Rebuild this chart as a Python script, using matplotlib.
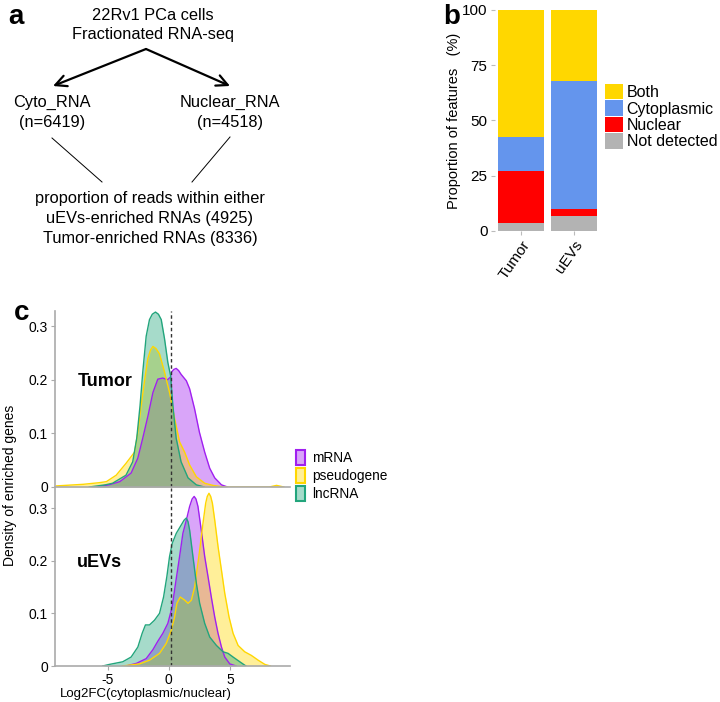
"""
plot.py - fractionated RNA-seq summary figure (panels a, b, c)
"""
import matplotlib
matplotlib.use('Agg')
import matplotlib.pyplot as plt
from matplotlib.patches import Patch
import numpy as np

plt.rcParams['font.family'] = ['Liberation Sans', 'DejaVu Sans']
plt.rcParams['axes.unicode_minus'] = False

# ---- panel b data (percent of features) ----
groups = ['Tumor', 'uEVs']
categories = ['Not detected', 'Nuclear', 'Cytoplasmic', 'Both']
pct_not_detected = [3.8, 6.9]
pct_nuclear = [23.3, 3.1]
pct_cytoplasmic = [15.6, 57.9]
pct_both = [57.3, 32.1]
cat_colors = {'Both': '#FFD700', 'Cytoplasmic': '#6495ED',
              'Nuclear': '#FF0000', 'Not detected': '#B3B3B3'}

# ---- panel c data (density curves) ----
# Tumor
tum_mrna_x = [-6.0, -4.9, -4.0, -3.08, -2.53, -2.13, -1.7, -1.3, -0.9, -0.5, -0.1, 0.14, 0.22, 0.4, 0.6, 0.8, 1.0, 1.43, 1.7, 2.1, 2.5, 2.93, 3.34, 3.75, 4.3, 4.8]
tum_mrna_y = [0.0, 0.004, 0.01, 0.026, 0.054, 0.091, 0.133, 0.176, 0.201, 0.203, 0.200, 0.205, 0.214, 0.219, 0.221, 0.217, 0.210, 0.198, 0.183, 0.146, 0.102, 0.065, 0.035, 0.017, 0.004, 0.0]
tum_pseudo_x = [-9.2, -7.0, -5.7, -5.1, -4.3, -3.5, -2.8, -2.53, -2.26, -2.0, -1.72, -1.5, -1.3, -1.05, -0.76, -0.35, 0.06, 0.47, 0.88, 1.29, 1.7, 2.25, 2.93, 3.6, 4.5, 8.2, 8.8, 9.4]
tum_pseudo_y = [0.002, 0.005, 0.008, 0.01, 0.022, 0.044, 0.065, 0.102, 0.152, 0.195, 0.239, 0.255, 0.262, 0.258, 0.248, 0.214, 0.176, 0.128, 0.084, 0.065, 0.041, 0.019, 0.007, 0.003, 0.0, 0.0, 0.003, 0.0]
tum_lnc_x = [-6.5, -5.2, -4.6, -3.5, -2.95, -2.62, -2.35, -2.13, -1.85, -1.58, -1.35, -1.09, -0.85, -0.62, -0.35, -0.08, 0.14, 0.33, 0.6, 1.0, 1.57, 2.25, 2.9]
tum_lnc_y = [0.0, 0.004, 0.007, 0.022, 0.047, 0.091, 0.152, 0.214, 0.281, 0.312, 0.322, 0.326, 0.322, 0.312, 0.276, 0.232, 0.208, 0.152, 0.091, 0.047, 0.017, 0.004, 0.0]
# uEVs
uev_mrna_x = [-3.5, -2.65, -1.85, -1.3, -0.9, -0.49, -0.08, 0.27, 0.55, 0.88, 1.15, 1.43, 1.7, 1.9, 2.07, 2.22, 2.38, 2.65, 2.93, 3.2, 3.47, 3.75, 4.02, 4.3, 4.57, 4.98, 5.5]
uev_mrna_y = [0.0, 0.005, 0.014, 0.031, 0.047, 0.062, 0.081, 0.112, 0.157, 0.208, 0.252, 0.277, 0.303, 0.317, 0.322, 0.317, 0.303, 0.258, 0.208, 0.170, 0.131, 0.093, 0.062, 0.036, 0.017, 0.004, 0.0]
uev_pseudo_x = [-3.8, -2.4, -1.58, -0.76, -0.21, 0.2, 0.47, 0.66, 0.93, 1.3, 1.57, 1.84, 2.11, 2.3, 2.52, 2.79, 3.01, 3.14, 3.28, 3.42, 3.56, 3.75, 4.02, 4.3, 4.57, 4.92, 5.25, 5.66, 6.2, 6.75, 7.3, 7.85, 8.3]
uev_pseudo_y = [0.0, 0.004, 0.011, 0.024, 0.043, 0.068, 0.093, 0.119, 0.131, 0.125, 0.119, 0.125, 0.150, 0.182, 0.220, 0.271, 0.309, 0.322, 0.328, 0.322, 0.309, 0.277, 0.227, 0.182, 0.138, 0.093, 0.062, 0.039, 0.027, 0.020, 0.011, 0.003, 0.0]
uev_lnc_x = [-5.4, -4.86, -3.77, -3.08, -2.53, -2.18, -1.91, -1.58, -1.17, -0.76, -0.43, -0.16, 0.06, 0.28, 0.61, 1.02, 1.25, 1.43, 1.57, 1.7, 1.97, 2.25, 2.52, 2.93, 3.34, 3.89, 4.43, 4.84, 5.25, 5.8, 6.3]
uev_lnc_y = [0.0, 0.003, 0.008, 0.017, 0.036, 0.062, 0.078, 0.078, 0.087, 0.100, 0.131, 0.170, 0.208, 0.233, 0.252, 0.268, 0.277, 0.281, 0.274, 0.258, 0.208, 0.157, 0.119, 0.081, 0.055, 0.039, 0.027, 0.024, 0.017, 0.008, 0.0]

rna_types = ['mRNA', 'pseudogene', 'lncRNA']
rna_colors = ['#A020F0', '#FFD700', '#22A57C']
x_ticks_c = [-5, 0, 5]


def draw_panel_a(fig):
    ax = fig.add_axes([0, 0, 1, 1], zorder=-1)
    ax.set_xlim(0, 720)
    ax.set_ylim(702, 0)
    ax.axis('off')
    ax.patch.set_alpha(0)
    fs = 11.8
    ax.text(8, 17, 'a', fontsize=20, fontweight='bold', va='center')
    ax.text(153, 15, '22Rv1 PCa cells', fontsize=fs, ha='center', va='center')
    ax.text(153, 34, 'Fractionated RNA-seq', fontsize=fs, ha='center', va='center')
    for end in [(53, 86), (230, 86)]:
        ax.annotate('', xy=end, xytext=(146, 49),
                    arrowprops=dict(arrowstyle='->', lw=1.6, color='black',
                                    mutation_scale=20, shrinkA=0, shrinkB=0))
    ax.text(52, 102, 'Cyto_RNA', fontsize=fs, ha='center', va='center')
    ax.text(52, 122, '(n=6419)', fontsize=fs, ha='center', va='center')
    ax.text(230, 102, 'Nuclear_RNA', fontsize=fs, ha='center', va='center')
    ax.text(230, 122, '(n=4518)', fontsize=fs, ha='center', va='center')
    ax.plot([52, 102], [138, 182], color='black', lw=0.7)
    ax.plot([230, 192], [137, 182], color='black', lw=0.7)
    ax.text(150, 199, 'proportion of reads within either', fontsize=fs, ha='center', va='center')
    ax.text(150, 219, 'uEVs-enriched RNAs (4925)', fontsize=fs, ha='center', va='center')
    ax.text(150, 238, 'Tumor-enriched RNAs (8336)', fontsize=fs, ha='center', va='center')
    ax.text(14, 313, 'c', fontsize=20, fontweight='bold', va='center')
    ax.text(443, 17, 'b', fontsize=20, fontweight='bold', va='center')


def draw_panel_b(fig):
    ax = fig.add_axes([494.5 / 720, 1 - 231 / 702, 106 / 720, 221 / 702])
    x = np.arange(1, len(groups) + 1)
    bottom = np.zeros(len(groups))
    series = {'Not detected': pct_not_detected, 'Nuclear': pct_nuclear,
              'Cytoplasmic': pct_cytoplasmic, 'Both': pct_both}
    for cat in categories:
        vals = np.array(series[cat])
        ax.bar(x, vals, bottom=bottom, width=0.88, color=cat_colors[cat], linewidth=0)
        bottom += vals
    ax.set_xlim(0.49, 2.51)
    ax.set_ylim(0, 100)
    ax.set_yticks([0, 25, 50, 75, 100])
    ax.set_xticks(x)
    ax.set_xticklabels(groups, rotation=55, ha='right', rotation_mode='anchor')
    for s in ax.spines.values():
        s.set_visible(False)
    ax.tick_params(axis='both', color='#BBBBBB', length=3, labelsize=11, pad=2)
    ax.set_ylabel('Proportion of features   (%)', fontsize=10.5, labelpad=1)
    handles = [Patch(facecolor=cat_colors[c], edgecolor='none') for c in
               ['Both', 'Cytoplasmic', 'Nuclear', 'Not detected']]
    fig.legend(handles, ['Both', 'Cytoplasmic', 'Nuclear', 'Not detected'],
               loc='upper left', bbox_to_anchor=(605 / 720, 1 - 84 / 702),
               frameon=False, fontsize=11.5, handlelength=1.1, handleheight=1.1,
               labelspacing=0.02, handletextpad=0.25, borderpad=0, borderaxespad=0)


def density_axes(fig, rect, curves, label, ymax, label_y, show_x):
    ax = fig.add_axes(rect)
    for (cx, cy), col in zip(curves, rna_colors):
        ax.fill_between(cx, cy, 0, color=col, alpha=0.4, linewidth=0)
        ax.plot(cx, cy, color=col, lw=1.0, solid_joinstyle='round')
    ax.axvline(0.15, color='#333333', lw=1.0, ls=(0, (2.5, 2)))
    ax.set_xlim(-9.3, 9.9)
    ax.set_ylim(0, ymax)
    ax.set_yticks([0, 0.1, 0.2, 0.3])
    ax.set_yticklabels(['0', '0.1', '0.2', '0.3'])
    ax.spines['top'].set_visible(False)
    ax.spines['right'].set_visible(False)
    for s in ['left', 'bottom']:
        ax.spines[s].set_color('#AAAAAA')
        ax.spines[s].set_linewidth(1.2)
    ax.tick_params(axis='both', color='#AAAAAA', length=3, labelsize=10, pad=2)
    ax.patch.set_alpha(0)
    if show_x:
        ax.set_xticks(x_ticks_c)
        ax.set_xlabel('Log2FC(cytoplasmic/nuclear)', fontsize=9.5)
        ax.xaxis.set_label_coords(0.387, -0.125)
    else:
        ax.set_xticks([])
    ax.text(0.095, label_y, label, transform=ax.transAxes,
            fontsize=13, fontweight='bold', va='center')
    return ax


def draw_panel_c(fig):
    top_curves = [(tum_mrna_x, tum_mrna_y), (tum_pseudo_x, tum_pseudo_y), (tum_lnc_x, tum_lnc_y)]
    bot_curves = [(uev_mrna_x, uev_mrna_y), (uev_pseudo_x, uev_pseudo_y), (uev_lnc_x, uev_lnc_y)]
    density_axes(fig, [55 / 720, 1 - 487 / 702, 235 / 720, 176 / 702],
                 top_curves, 'Tumor', 0.328, 0.6, False)
    density_axes(fig, [55 / 720, 1 - 666 / 702, 235 / 720, 178 / 702],
                 bot_curves, 'uEVs', 0.338, 0.584, True)
    fig.text(10 / 720, 1 - 485 / 702, 'Density of enriched genes', rotation=90,
             fontsize=10, ha='center', va='center')
    handles = [Patch(facecolor=matplotlib.colors.to_rgba(c, 0.4), edgecolor=c, lw=1.5)
               for c in rna_colors]
    fig.legend(handles, rna_types, loc='upper left',
               bbox_to_anchor=(296 / 720, 1 - 450 / 702), frameon=False,
               fontsize=9.8, handlelength=0.65, handleheight=1.35,
               labelspacing=0.2, handletextpad=0.55, borderpad=0, borderaxespad=0)


def main():
    fig = plt.figure(figsize=(7.2, 7.02), dpi=100)
    draw_panel_a(fig)
    draw_panel_b(fig)
    draw_panel_c(fig)
    fig.savefig('out.png', dpi=100)
    plt.close(fig)


if __name__ == "__main__":
    main()
